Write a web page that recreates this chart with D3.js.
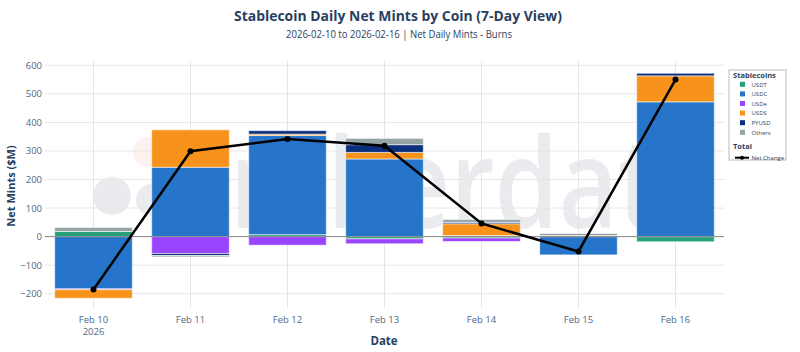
<!DOCTYPE html>
<html lang="en">
<head>
<meta charset="utf-8">
<title>Stablecoin Daily Net Mints by Coin</title>
<script src="https://cdn.jsdelivr.net/npm/d3@7"></script>
<style>
  body { margin: 0; background: #fff; }
  svg text { font-family: "Open Sans", "Liberation Sans", Arial, sans-serif; }
</style>
</head>
<body>
<script>
// data ($M)
var dates = ["Feb 10", "Feb 11", "Feb 12", "Feb 13", "Feb 14", "Feb 15", "Feb 16"];
var coins = ["USDT", "USDC", "USDe", "USDS", "PYUSD", "Others"];
var usdt   = [18, 0, 7, -8, -5, 0, -18];
var usdc   = [-183, 243, 347, 272, 4, -64, 472];
var usde   = [-3, -59, -30, -17, -12, 0, 0];
var usds   = [-30, 131, 5, 23, 41, 4, 91];
var pyusd  = [0, -7, 12, 27, 5, 0, 9];
var others = [14, -5, 0, 22, 10, 7, 0];
var netChange = [-185, 299, 342, 318, 46, -52, 550];
var yTicks = [-200, -100, 0, 100, 200, 300, 400, 500, 600];

var colors = {
  USDT: "#26a17b", USDC: "#2775ca", USDe: "#9945ff",
  USDS: "#f7931a", PYUSD: "#0b2f7c", Others: "#95a5a6"
};
var series = [usdt, usdc, usde, usds, pyusd, others];

var W = 800, H = 352;
var margin = {left: 45, right: 76, top: 61, bottom: 44};
var tickColor = "#506784", titleColor = "#2a3f5f";

var svg = d3.select("body").append("svg")
  .attr("width", W).attr("height", H);

var x = d3.scaleBand().domain(dates)
  .range([margin.left, W - margin.right]);
var y = d3.scaleLinear().domain([-250, 615])
  .range([H - margin.bottom, margin.top]);

// faint watermark
var wm = svg.append("g").attr("opacity", 0.085);
wm.append("circle").attr("cx", 148).attr("cy", 152).attr("r", 15).attr("fill", "#f26a3d");
wm.append("circle").attr("cx", 112).attr("cy", 196).attr("r", 19).attr("fill", "#1a2550");
wm.append("circle").attr("cx", 152).attr("cy", 200).attr("r", 16).attr("fill", "#1a2550");
wm.append("text").attr("transform", "translate(170,228) scale(1,1.2)")
  .attr("textLength", 548).attr("lengthAdjust", "spacingAndGlyphs")
  .attr("font-size", 104).attr("font-weight", 600).attr("fill", "#1a2550")
  .text("amberdata");

// grid
var grid = svg.append("g");
grid.selectAll("line.h").data(yTicks).enter().append("line")
  .attr("x1", margin.left).attr("x2", W - margin.right)
  .attr("y1", function(d) { return y(d); }).attr("y2", function(d) { return y(d); })
  .attr("stroke", "#e6e6e6").attr("stroke-width", 1);
grid.selectAll("line.v").data(dates).enter().append("line")
  .attr("x1", function(d) { return x(d) + x.bandwidth() / 2; })
  .attr("x2", function(d) { return x(d) + x.bandwidth() / 2; })
  .attr("y1", margin.top).attr("y2", H - margin.bottom)
  .attr("stroke", "#e6e6e6").attr("stroke-width", 1);

// relative stacking like plotly
var segs = [];
dates.forEach(function(d, i) {
  var pos = 0, neg = 0;
  series.forEach(function(s, k) {
    var v = s[i];
    if (!v) return;
    if (v > 0) { segs.push({date: d, coin: coins[k], y0: pos, y1: pos + v}); pos += v; }
    else { segs.push({date: d, coin: coins[k], y0: neg + v, y1: neg}); neg += v; }
  });
});

var bw = x.bandwidth() * 0.8;
svg.append("g").selectAll("rect").data(segs).enter().append("rect")
  .attr("x", function(d) { return x(d.date) + (x.bandwidth() - bw) / 2; })
  .attr("y", function(d) { return y(d.y1); })
  .attr("width", bw)
  .attr("height", function(d) { return y(d.y0) - y(d.y1); })
  .attr("fill", function(d) { return colors[d.coin]; })
  .attr("stroke", "rgba(255,255,255,0.55)")
  .attr("stroke-width", 1);

// zero line
svg.append("line")
  .attr("x1", margin.left).attr("x2", W - margin.right)
  .attr("y1", y(0)).attr("y2", y(0))
  .attr("stroke", "#8a8a8a").attr("stroke-width", 1);

// net change line
var line = d3.line()
  .x(function(d, i) { return x(dates[i]) + x.bandwidth() / 2; })
  .y(function(d) { return y(d); });
svg.append("path").datum(netChange)
  .attr("d", line).attr("fill", "none")
  .attr("stroke", "#000").attr("stroke-width", 2.5);
svg.append("g").selectAll("circle").data(netChange).enter().append("circle")
  .attr("cx", function(d, i) { return x(dates[i]) + x.bandwidth() / 2; })
  .attr("cy", function(d) { return y(d); })
  .attr("r", 3).attr("fill", "#000");

// axes
var yAxis = d3.axisLeft(y).tickValues(yTicks).tickSize(0).tickPadding(3)
  .tickFormat(function(d) { return d < 0 ? "\u2212" + Math.abs(d) : d; });
var ga = svg.append("g").attr("transform", "translate(" + margin.left + ",0)").call(yAxis);
ga.select(".domain").remove();
ga.selectAll("text").attr("font-size", 9.5).attr("fill", tickColor);

var xAxis = d3.axisBottom(x).tickSize(0).tickPadding(8);
var gx = svg.append("g").attr("transform", "translate(0," + (H - margin.bottom) + ")").call(xAxis);
gx.select(".domain").remove();
gx.selectAll("text").attr("font-size", 9.5).attr("fill", tickColor);
gx.selectAll(".tick").filter(function(d) { return d === dates[0]; })
  .append("text").attr("y", 27).attr("fill", tickColor).attr("font-size", 9.5)
  .attr("text-anchor", "middle").text("2026");

// titles
svg.append("text").attr("x", 398).attr("y", 21).attr("text-anchor", "middle")
  .attr("font-size", 15).attr("font-weight", "bold").attr("fill", titleColor)
  .attr("textLength", 328).attr("lengthAdjust", "spacingAndGlyphs")
  .text("Stablecoin Daily Net Mints by Coin (7-Day View)");
svg.append("text").attr("x", 399).attr("y", 38).attr("text-anchor", "middle")
  .attr("font-size", 10.5).attr("fill", titleColor)
  .attr("textLength", 226).attr("lengthAdjust", "spacingAndGlyphs")
  .text("2026-02-10 to 2026-02-16 | Net Daily Mints - Burns");
svg.append("text").attr("x", 384).attr("y", 345).attr("text-anchor", "middle")
  .attr("font-size", 11.5).attr("font-weight", "bold").attr("fill", titleColor)
  .text("Date");
svg.append("text").attr("transform", "translate(15,186) rotate(-90)")
  .attr("text-anchor", "middle").attr("font-size", 11).attr("font-weight", "bold")
  .attr("fill", titleColor).text("Net Mints ($M)");

// legend
var lg = svg.append("g").attr("transform", "translate(729,70)");
lg.append("rect").attr("width", 57).attr("height", 90)
  .attr("fill", "#fff").attr("stroke", "#bbb").attr("stroke-width", 1);
lg.append("text").attr("x", 4).attr("y", 8).attr("font-size", 7.5)
  .attr("font-weight", "bold").attr("fill", titleColor).text("Stablecoins");
var items = lg.selectAll("g.item").data(coins).enter().append("g")
  .attr("transform", function(d, i) { return "translate(0," + (14.3 + i * 9.6) + ")"; });
items.append("rect").attr("x", 11).attr("y", -2.5).attr("width", 5).attr("height", 5)
  .attr("fill", function(d) { return colors[d]; });
items.append("text").attr("x", 22.5).attr("y", 2.2).attr("font-size", 6)
  .attr("fill", titleColor).text(function(d) { return d; });
lg.append("text").attr("x", 4).attr("y", 79).attr("font-size", 7.5)
  .attr("font-weight", "bold").attr("fill", titleColor).text("Total");
lg.append("line").attr("x1", 6).attr("x2", 20).attr("y1", 87.7).attr("y2", 87.7)
  .attr("stroke", "#000").attr("stroke-width", 2);
lg.append("circle").attr("cx", 13).attr("cy", 87.7).attr("r", 2).attr("fill", "#000");
lg.append("text").attr("x", 22.5).attr("y", 89.8).attr("font-size", 6)
  .attr("fill", titleColor).text("Net Change");
</script>
</body>
</html>
